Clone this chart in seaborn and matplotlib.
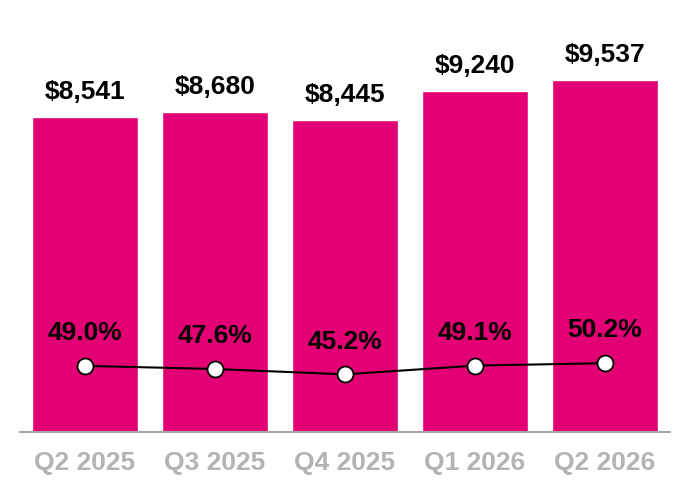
import numpy as np
import pandas as pd
import seaborn as sns
import matplotlib.pyplot as plt

# Data
quarters = ['Q2 2025', 'Q3 2025', 'Q4 2025', 'Q1 2026', 'Q2 2026']
revenue = [8541, 8680, 8445, 9240, 9537]
margin = [49.0, 47.6, 45.2, 49.1, 50.2]

df = pd.DataFrame({'quarter': quarters, 'revenue': revenue, 'margin': margin})

sns.set_style('white')
plt.rcParams['font.family'] = ['Liberation Sans', 'DejaVu Sans']

magenta = '#E20074'

fig = plt.figure(figsize=(6.9, 5), dpi=100)
ax = fig.add_axes([20 / 690, 68 / 500, 650 / 690, 412 / 500])

sns.barplot(data=df, x='quarter', y='revenue', color=magenta, width=0.815,
            saturation=1, ax=ax)
ax.set_xlim(-0.5, 4.5)
ax.set_ylim(0, 412 * 27.1)

for i, v in enumerate(revenue):
    ax.annotate(f'${v:,}', (i, v), xytext=(0, 13), textcoords='offset points',
                ha='center', va='baseline', fontsize=19, fontweight='bold', color='black')

ax.set_xlabel('')
ax.set_ylabel('')
ax.set_yticks([])
for s in ['top', 'right', 'left']:
    ax.spines[s].set_visible(False)
ax.spines['bottom'].set_color('#A6A6A6')
ax.spines['bottom'].set_linewidth(1.5)
ax.tick_params(axis='x', length=0, pad=14, labelsize=19, labelcolor='#B3B3B3')
for lbl in ax.get_xticklabels():
    lbl.set_fontweight('bold')

# secondary axis for margin line
ax2 = ax.twinx()
sns.lineplot(x=np.arange(len(quarters)), y=margin, ax=ax2, color='black',
             linewidth=1.5, marker='o', markersize=11.5, markerfacecolor='white',
             markeredgecolor='black', markeredgewidth=1.3)
ax2.set_xlim(-0.5, 4.5)
lo = 48.22 - 64.4 / 2.24
ax2.set_ylim(lo, lo + 412 / 2.24)
ax2.set_yticks([])
for s in ['top', 'right', 'left', 'bottom']:
    ax2.spines[s].set_visible(False)

for i, m in enumerate(margin):
    ax2.annotate(f'{m:.1f}%', (i, m), xytext=(0, 18.5), textcoords='offset points',
                 ha='center', va='baseline', fontsize=19, fontweight='bold', color='black')

fig.savefig('out.png', dpi=100)
